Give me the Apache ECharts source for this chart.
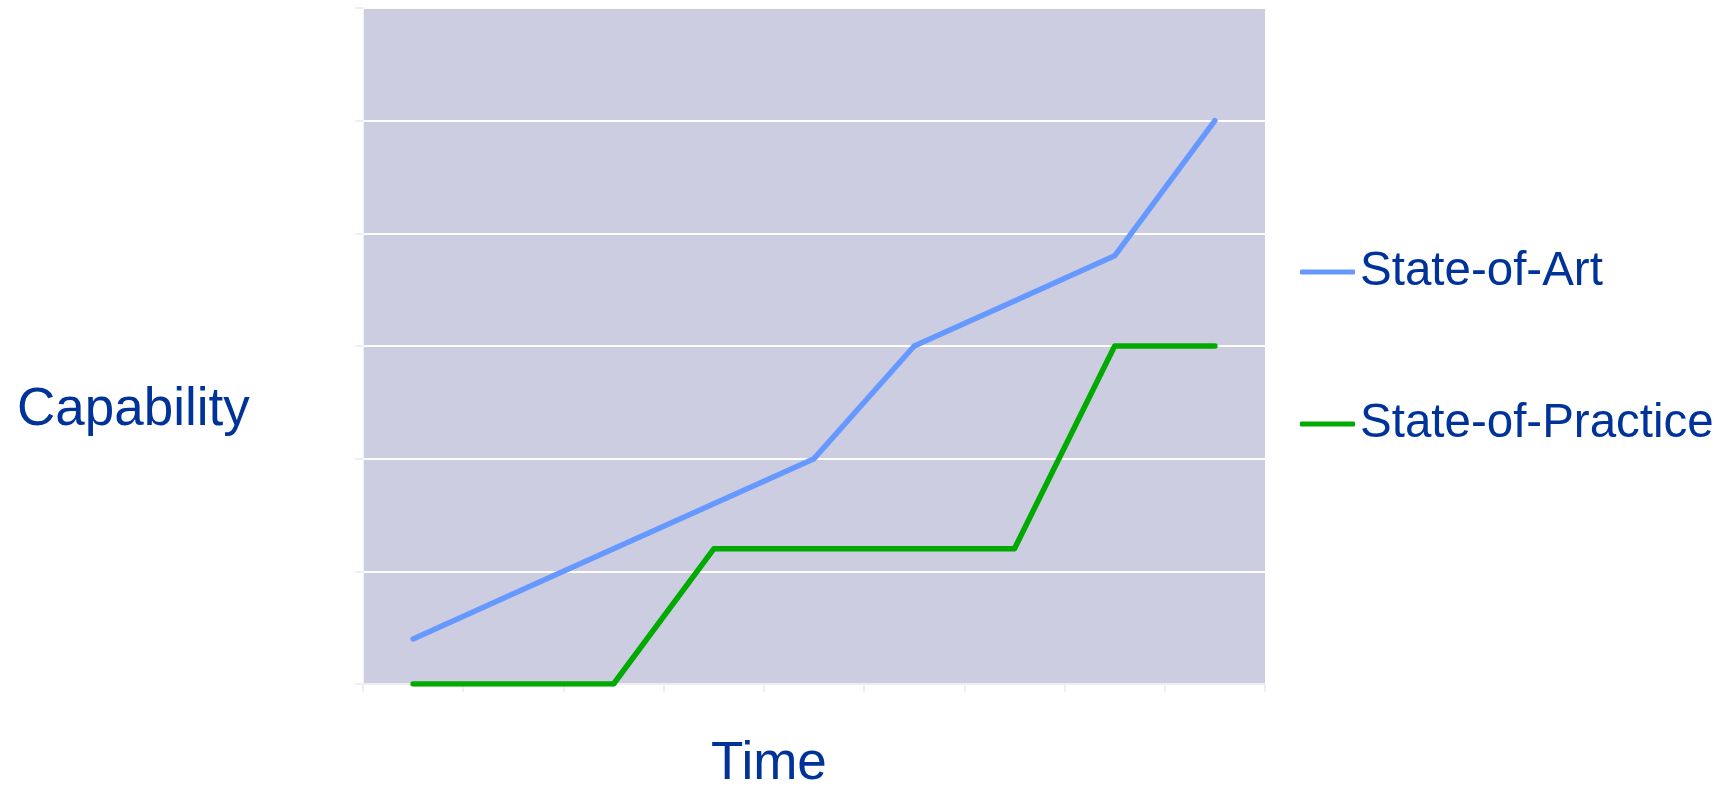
<!DOCTYPE html>
<html>
<head>
<meta charset="utf-8">
<script src="https://cdn.jsdelivr.net/npm/echarts@6/dist/echarts.min.js"></script>
<style>
html,body{margin:0;padding:0;background:#fff;}
#c{width:1730px;height:786px;}
</style>
</head>
<body>
<div id="c"></div>
<script>
var categories = ['t1','t2','t3','t4','t5','t6','t7','t8','t9'];
var stateOfArt = [0.4, 0.8, 1.2, 1.6, 2.0, 3.0, 3.4, 3.8, 5.0];
var stateOfPractice = [0, 0, 0, 1.2, 1.2, 1.2, 1.2, 3.0, 3.0];
var seriesNames = ['State-of-Art', 'State-of-Practice'];
var yTicks = [0, 1, 2, 3, 4, 5, 6];

var textColor = '#003399';
var chart = echarts.init(document.getElementById('c'), null, {renderer:'canvas'});
chart.setOption({
  animation: false,
  backgroundColor: '#ffffff',
  grid: {
    left: 363, right: 465, top: 8, bottom: 102,
    show: true, backgroundColor: '#CCCDE0', borderWidth: 0
  },
  legend: {
    orient: 'vertical',
    left: 1295,
    top: 243,
    itemWidth: 55,
    itemHeight: 5,
    itemGap: 104,
    icon: 'roundRect',
    textStyle: {fontFamily: 'Liberation Sans, Arial, sans-serif', fontSize: 47.5, color: textColor},
    data: seriesNames
  },
  xAxis: {
    type: 'category',
    data: categories,
    boundaryGap: true,
    axisLine: {show: true, lineStyle: {color: '#EEEEEE', width: 2}},
    axisTick: {show: true, length: 8, lineStyle: {color: '#EEEEEE', width: 2}},
    axisLabel: {show: false},
    splitLine: {show: false}
  },
  yAxis: {
    type: 'value',
    min: yTicks[0],
    max: yTicks[yTicks.length - 1],
    interval: 1,
    axisLine: {show: true, lineStyle: {color: '#F2F2F2', width: 1}},
    axisTick: {show: true, length: 8, lineStyle: {color: '#EEEEEE', width: 2}},
    axisLabel: {show: false},
    splitLine: {show: true, lineStyle: {color: '#FFFFFF', width: 2}}
  },
  graphic: [
    {type: 'text', left: 17, top: 384, style: {text: 'Capability', fill: textColor, font: '53px "Liberation Sans", Arial, sans-serif'}},
    {type: 'text', left: 711, top: 738, style: {text: 'Time', fill: textColor, font: '53px "Liberation Sans", Arial, sans-serif'}}
  ],
  series: [
    {
      name: seriesNames[0], type: 'line', data: stateOfArt, symbol: 'none', smooth: false,
      lineStyle: {color: '#6699FF', width: 5.5, cap: 'round', join: 'round'},
      itemStyle: {color: '#6699FF'}
    },
    {
      name: seriesNames[1], type: 'line', data: stateOfPractice, symbol: 'none', smooth: false,
      lineStyle: {color: '#00AA00', width: 5.5, cap: 'round', join: 'round'},
      itemStyle: {color: '#00AA00'}
    }
  ]
});
</script>
</body>
</html>
